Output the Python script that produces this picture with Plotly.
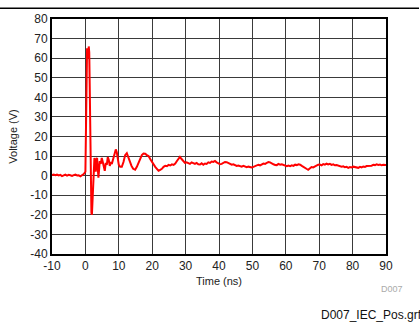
import plotly.graph_objects as go

time_ns = [
    -10, -9.5, -9, -8.5, -8, -7.5, -7, -6.5, -6, -5.5, -5, -4.5, -4, -3.5, -3, -2.5, -2, -1.5, -1, -0.5,
    0.0, 0.2, 0.35, 0.5, 0.7, 0.85, 1.0, 1.15, 1.3, 1.45, 1.6, 1.8, 1.95, 2.1, 2.3, 2.5, 2.7, 2.9,
    3.1, 3.3, 3.5, 3.7, 3.9, 4.1, 4.3, 4.6, 4.9, 5.2, 5.5, 5.8, 6.1, 6.4, 6.7, 7.0, 7.3, 7.6, 7.9,
    8.2, 8.5, 8.8, 9.1, 9.4, 9.7, 10.0, 10.4, 10.9, 11.4, 11.9, 12.4, 12.8, 13.3, 13.8, 14.3, 14.9,
    15.4, 15.9, 16.4, 16.9, 17.4, 17.9, 18.4, 18.9, 19.4, 19.9, 20.4, 20.9, 21.4, 21.9, 22.4, 22.9,
    23.4, 23.9, 24.4, 24.9, 25.4, 25.9, 26.4, 26.9, 27.4, 27.9, 28.3, 28.8, 29.3, 29.8, 30.3, 30.8,
    31.3, 31.8, 32.3, 32.8, 33.3, 33.8, 34.3, 34.8, 35.3, 35.8, 36.3, 36.8, 37.3, 37.8, 38.3, 38.8,
    39.3, 39.8, 40.3, 40.8, 41.3, 41.8, 42.3, 42.8, 43.3, 43.8, 44.3, 44.8, 45.3, 45.8, 46.3, 46.8,
    47.3, 47.8, 48.3, 48.8, 49.3, 49.8, 50.3, 50.8, 51.3, 51.8, 52.3, 52.8, 53.3, 53.8, 54.3, 54.8,
    55.3, 55.8, 56.3, 56.8, 57.3, 57.8, 58.3, 58.8, 59.3, 59.8, 60.3, 60.8, 61.3, 61.8, 62.3, 62.8,
    63.3, 63.8, 64.3, 64.8, 65.3, 65.8, 66.3, 66.7, 67.2, 67.7, 68.2, 68.7, 69.2, 69.7, 70.2, 70.7,
    71.2, 71.7, 72.2, 72.7, 73.2, 73.7, 74.2, 74.7, 75.2, 75.7, 76.2, 76.7, 77.2, 77.7, 78.2, 78.7,
    79.2, 79.7, 80.2, 80.7, 81.2, 81.7, 82.2, 82.7, 83.2, 83.7, 84.2, 84.7, 85.2, 85.7, 86.2, 86.7,
    87.2, 87.7, 88.2, 88.7, 89.2, 89.7, 90.0,
]
voltage_v = [
    0.3, 0.6, 0.2, 0.5, 0.1, 0.4, -0.2, 0.3, 0.5, 0.0, 0.4, 0.2, -0.1, 0.3, 0.6, 0.1, 0.2, -0.3, 0.2, 0.8,
    2.0, 20, 50, 65, 64, 60, 66, 63, 45, 15, -5, -19, -20, -12, -2, 5, 9, 7,
    2, 8.5, 9, 4, -1, 3, 7.5, 6, 9, 7, 3.5, 2.5, 6.5, 5.5, 9.5, 8, 5, 7, 6,
    8, 10, 12.5, 13.4, 12, 8, 5.5, 4.5, 4.5, 7, 10.5, 11.5, 9.5, 7, 5, 3.5, 3,
    4.5, 6.5, 9, 10.5, 11.3, 11.2, 10.5, 10, 8.5, 7, 5.5, 4.5, 3.5, 2.5, 3, 3.5,
    4.5, 5, 4.8, 5.5, 5.2, 5.8, 5.5, 6.2, 7.5, 9, 9.6, 8.5, 7.2, 6.5, 6.8, 6.2,
    6, 6.8, 6.3, 6.0, 6.5, 5.8, 5.7, 6.3, 5.6, 6.2, 6.0, 6.8, 6.5, 7.2, 7.0, 7.5,
    6.8, 6.3, 5.8, 6.0, 6.5, 7.0, 6.9, 6.4, 6.0, 5.6, 5.8, 5.3, 5.0, 5.2, 4.8, 4.6,
    5.0, 4.5, 4.3, 4.6, 4.4, 4.2, 4.5, 4.8, 5.0, 5.6, 5.3, 5.9, 6.2, 6.0, 6.6, 7.0,
    6.8, 6.2, 5.8, 5.5, 5.4, 6.0, 5.6, 5.8, 5.5, 5.0, 4.8, 5.2, 4.9, 5.3, 5.0, 5.6,
    5.4, 5.8, 5.6, 5.0, 4.6, 4.0, 3.4, 3.0, 3.8, 4.4, 4.2, 4.8, 5.0, 5.6, 5.7, 5.3,
    5.9, 5.6, 6.1, 5.7, 6.0, 5.5, 5.8, 5.3, 5.4, 5.0, 4.9, 4.6, 4.8, 4.3, 4.5, 4.0,
    4.4, 4.2, 4.6, 4.3, 4.4, 4.0, 4.5, 4.2, 4.7, 4.5, 4.9, 5.0, 5.3, 5.1, 5.6, 5.4,
    5.8, 5.5, 5.7, 5.3, 5.6, 5.4, 5.5,
]

x_ticks = list(range(-10, 91, 10))
y_ticks = list(range(-40, 81, 10))

FONT = "Liberation Sans, Arial, sans-serif"

fig = go.Figure()
fig.add_trace(go.Scatter(
    x=time_ns, y=voltage_v, mode="lines",
    line=dict(color="#ff0000", width=2),
    showlegend=False, hoverinfo="skip",
))

fig.update_layout(
    width=420, height=323,
    margin=dict(l=52, r=34, t=16, b=69),
    paper_bgcolor="white", plot_bgcolor="white",
    font=dict(family=FONT, size=12, color="#222"),
    xaxis=dict(
        range=[-10, 90], tickvals=x_ticks, ticktext=[str(v) for v in x_ticks],
        showgrid=True, gridcolor="#3a3a3a", gridwidth=1,
        showline=True, linecolor="black", linewidth=2, mirror=True,
        zeroline=False, ticks="", ticklen=0,
        title=dict(text="Time (ns)", font=dict(size=11), standoff=5),
        tickfont=dict(size=12),
    ),
    yaxis=dict(
        range=[-40, 80], tickvals=y_ticks, ticktext=[str(v) for v in y_ticks],
        showgrid=True, gridcolor="#3a3a3a", gridwidth=1,
        showline=True, linecolor="black", linewidth=2, mirror=True,
        zeroline=False, ticks="", ticklen=0,
        title=dict(text="Voltage (V)", font=dict(size=11), standoff=10),
        tickfont=dict(size=12),
    ),
    shapes=[dict(type="line", xref="paper", yref="paper",
                 x0=-52/334, x1=(419-52)/334, y0=1 + 11/238, y1=1 + 11/238,
                 line=dict(color="black", width=1.5))],
    annotations=[
        dict(text="D007", xref="paper", yref="paper",
             x=(405-52)/334, y=-(289-254)/238, xanchor="right", yanchor="middle",
             showarrow=False, font=dict(size=9, color="#aaaaaa")),
        dict(text="D007_IEC_Pos.grf", xref="paper", yref="paper",
             x=(319-52)/334, y=-(316-254)/238, xanchor="left", yanchor="middle",
             showarrow=False, font=dict(size=12, color="#111")),
    ],
)

fig.write_html("out.html", config={"displayModeBar": False},
               post_script="document.body.style.margin='0';")
